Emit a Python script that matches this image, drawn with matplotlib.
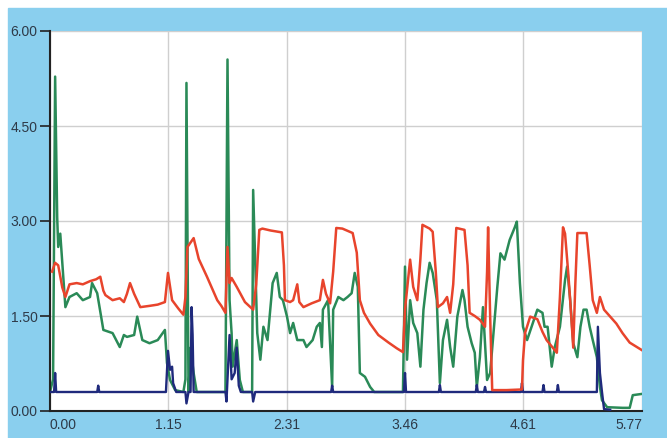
#
# Traço de três sinais (vermelho, verde, azul) num fundo azul claro
#
import matplotlib.pyplot as plt
from matplotlib.patches import Rectangle

# eixo x e rótulos
x_ticks = [0.00, 1.15, 2.31, 3.46, 4.61, 5.77]
x_labels = ['0.00', '1.15', '2.31', '3.46', '4.61', '5.77']
y_ticks = [0.0, 1.5, 3.0, 4.5, 6.0]
y_labels = ['0.00', '1.50', '3.00', '4.50', '6.00']

# série vermelha
red_x = [0.02, 0.05, 0.08, 0.12, 0.15, 0.19, 0.26, 0.32, 0.39, 0.45, 0.49, 0.52, 0.54,
         0.61, 0.68, 0.72, 0.75, 0.78, 0.82, 0.88, 0.97, 1.05, 1.12, 1.15, 1.19, 1.25,
         1.30, 1.32, 1.34, 1.40, 1.45, 1.53, 1.63, 1.67, 1.71, 1.73, 1.75, 1.77, 1.82,
         1.90, 1.98, 2.01, 2.04, 2.07, 2.15, 2.26, 2.28, 2.29, 2.34, 2.37, 2.41, 2.43,
         2.47, 2.55, 2.63, 2.66, 2.69, 2.73, 2.76, 2.79, 2.85, 2.95, 2.99, 3.02, 3.06,
         3.12, 3.20, 3.30, 3.38, 3.44, 3.46, 3.51, 3.54, 3.58, 3.61, 3.63, 3.70, 3.73,
         3.76, 3.78, 3.83, 3.87, 3.90, 3.93, 3.96, 4.04, 4.07, 4.09, 4.14, 4.19, 4.24,
         4.26, 4.27, 4.29, 4.31, 4.45, 4.60, 4.61, 4.63, 4.68, 4.75, 4.80, 4.84, 4.90,
         4.94, 4.97, 5.00, 5.02, 5.05, 5.07, 5.10, 5.12, 5.14, 5.23, 5.26, 5.29, 5.33,
         5.36, 5.40, 5.46, 5.52, 5.58, 5.65, 5.77]
red_y = [2.20, 2.34, 2.30, 1.95, 1.80, 2.00, 2.02, 2.00, 2.05, 2.08, 2.12, 1.90, 1.83,
         1.75, 1.78, 1.72, 1.85, 2.02, 1.85, 1.64, 1.66, 1.68, 1.72, 2.18, 1.75, 1.62,
         1.52, 1.80, 2.59, 2.73, 2.40, 2.12, 1.75, 1.66, 1.55, 2.59, 2.02, 2.10, 1.96,
         1.72, 1.60, 2.00, 2.86, 2.88, 2.85, 2.82, 2.30, 1.75, 1.72, 1.75, 2.00, 1.72,
         1.64, 1.70, 1.75, 2.07, 1.85, 1.70, 2.20, 2.89, 2.88, 2.81, 2.50, 1.75, 1.55,
         1.38, 1.20, 1.08, 0.99, 0.93, 1.60, 2.39, 1.96, 1.75, 2.40, 2.94, 2.88, 2.83,
         2.20, 1.64, 1.70, 1.80, 1.55, 2.00, 2.89, 2.86, 2.30, 1.55, 1.50, 1.44, 1.33,
         2.20, 2.90, 1.50, 0.33, 0.33, 0.34, 0.80, 1.23, 1.49, 1.45, 1.25, 1.12, 1.00,
         0.92, 1.80, 2.90, 2.80, 2.20, 1.75, 1.00, 2.00, 2.81, 2.81, 2.30, 1.75, 1.55,
         1.80, 1.60, 1.49, 1.38, 1.23, 1.08, 0.96]

# série verde
green_x = [0.00, 0.03, 0.05, 0.07, 0.08, 0.10, 0.12, 0.15, 0.19, 0.26, 0.32, 0.39, 0.41,
           0.46, 0.52, 0.61, 0.68, 0.72, 0.75, 0.82, 0.85, 0.90, 0.97, 1.05, 1.12, 1.14,
           1.17, 1.22, 1.30, 1.32, 1.33, 1.35, 1.37, 1.40, 1.43, 1.71, 1.73, 1.75, 1.77,
           1.78, 1.82, 1.85, 1.88, 1.97, 1.98, 2.02, 2.05, 2.08, 2.12, 2.17, 2.21, 2.24,
           2.27, 2.31, 2.34, 2.37, 2.41, 2.47, 2.50, 2.56, 2.60, 2.63, 2.65, 2.66, 2.71,
           2.75, 2.76, 2.81, 2.86, 2.90, 2.94, 2.97, 3.00, 3.02, 3.07, 3.12, 3.16, 3.44,
           3.46, 3.48, 3.51, 3.54, 3.58, 3.61, 3.64, 3.67, 3.70, 3.73, 3.77, 3.80, 3.83,
           3.87, 3.90, 3.93, 3.97, 4.02, 4.04, 4.07, 4.11, 4.14, 4.16, 4.19, 4.22, 4.26,
           4.29, 4.36, 4.39, 4.43, 4.48, 4.53, 4.55, 4.58, 4.61, 4.65, 4.75, 4.80, 4.82,
           4.85, 4.89, 4.92, 4.97, 5.02, 5.04, 5.07, 5.10, 5.14, 5.17, 5.20, 5.23, 5.26,
           5.29, 5.33, 5.36, 5.38, 5.43, 5.58, 5.65, 5.68, 5.77]
green_y = [0.30, 0.50, 5.28, 3.06, 2.59, 2.80, 2.34, 1.64, 1.80, 1.86, 1.75, 1.80, 2.02,
           1.86, 1.28, 1.23, 1.01, 1.20, 1.17, 1.20, 1.49, 1.12, 1.07, 1.12, 1.28, 0.76,
           0.49, 0.33, 0.30, 0.50, 5.18, 0.30, 1.00, 0.60, 0.30, 0.30, 5.55, 1.75, 1.23,
           0.70, 1.12, 0.49, 0.30, 0.30, 3.49, 1.23, 0.81, 1.33, 1.12, 2.02, 2.18, 1.80,
           1.75, 1.49, 1.23, 1.39, 1.12, 1.12, 1.01, 1.12, 1.33, 1.39, 1.01, 1.60, 1.75,
           0.38, 1.60, 1.80, 1.75, 1.80, 1.86, 2.18, 1.96, 0.60, 0.54, 0.38, 0.30, 0.30,
           2.28, 0.81, 1.75, 1.39, 1.23, 0.70, 1.60, 2.02, 2.34, 2.18, 1.75, 0.44, 1.12,
           1.44, 1.01, 0.70, 1.49, 1.91, 1.75, 1.33, 1.07, 0.92, 0.38, 0.85, 1.64, 0.49,
           0.60, 1.96, 2.49, 2.39, 2.70, 2.90, 2.99, 2.02, 1.33, 1.12, 1.60, 1.55, 1.33,
           1.33, 0.70, 1.01, 1.33, 2.07, 2.28, 1.75, 1.07, 0.85, 1.33, 1.60, 1.60, 1.33,
           1.12, 0.85, 0.38, 0.17, 0.06, 0.05, 0.05, 0.25, 0.27]

# série azul escura
blue_x = [0.00, 0.04, 0.05, 0.06, 0.46, 0.47, 0.48, 1.13, 1.15, 1.17, 1.19, 1.20, 1.23,
          1.32, 1.33, 1.35, 1.37, 1.38, 1.39, 1.40, 1.71, 1.72, 1.73, 1.75, 1.77, 1.80,
          1.82, 1.84, 1.86, 1.97, 1.98, 2.00, 2.74, 2.75, 2.76, 3.45, 3.46, 3.47, 3.79,
          3.80, 3.81, 4.15, 4.16, 4.17, 4.23, 4.24, 4.25, 4.59, 4.60, 4.61, 4.80, 4.81,
          4.82, 4.94, 4.95, 4.96, 5.33, 5.34, 5.36, 5.38, 5.40, 5.46]
blue_y = [0.30, 0.30, 0.60, 0.30, 0.30, 0.40, 0.30, 0.30, 0.95, 0.65, 0.70, 0.44, 0.30,
          0.30, 0.12, 0.30, 0.30, 1.64, 1.20, 0.30, 0.30, 0.15, 0.50, 1.20, 0.50, 0.60,
          1.00, 0.40, 0.30, 0.30, 0.15, 0.30, 0.30, 0.40, 0.30, 0.30, 0.60, 0.30, 0.30,
          0.41, 0.30, 0.30, 0.41, 0.30, 0.30, 0.38, 0.30, 0.30, 0.44, 0.30, 0.30, 0.41,
          0.30, 0.30, 0.41, 0.30, 0.30, 1.33, 0.60, 0.30, 0.03, 0.02]

fig = plt.figure(figsize=(6.67, 4.38), dpi=100, facecolor='white')
# moldura azul clara
fig.add_artist(Rectangle((8 / 667, 0), 1, 430 / 438, transform=fig.transFigure,
                         color='#8acfee', zorder=-10))

ax = fig.add_axes([50 / 667, 27 / 438, 592 / 667, 380 / 438])
ax.set_zorder(5)
ax.set_facecolor('white')

ax.plot(green_x, green_y, color='#2a8a57', lw=1.8, zorder=2)
ax.plot(blue_x, blue_y, color='#1f2a7c', lw=1.7, zorder=3)
ax.plot(red_x, red_y, color='#e8442c', lw=1.8, zorder=4)

ax.set_xlim(0, 5.77)
ax.set_ylim(0, 6)
ax.set_xticks(x_ticks)
ax.set_xticklabels(x_labels)
ax.set_yticks(y_ticks)
ax.set_yticklabels(y_labels)

for lab in ax.get_xticklabels():
    lab.set_fontfamily('Liberation Sans')
lbls = ax.get_xticklabels()
lbls[0].set_ha('left')
lbls[-1].set_ha('right')

ax.tick_params(axis='x', length=0, pad=5, labelsize=10, labelcolor='#2e3a48')
ax.tick_params(axis='y', length=7, width=1.2, pad=2, labelsize=10, labelcolor='#2e3a48',
               color='#222222')
for lab in ax.get_yticklabels():
    lab.set_fontfamily('Liberation Sans')

ax.grid(True, color='#cfcfcf', lw=1)
ax.set_axisbelow(True)
ax.spines['top'].set_visible(False)
ax.spines['right'].set_visible(False)
ax.spines['left'].set_color('#222222')
ax.spines['bottom'].set_color('#222222')
ax.spines['left'].set_linewidth(1.5)
ax.spines['bottom'].set_linewidth(1.5)

plt.savefig('out.png', dpi=100, facecolor=fig.get_facecolor())
